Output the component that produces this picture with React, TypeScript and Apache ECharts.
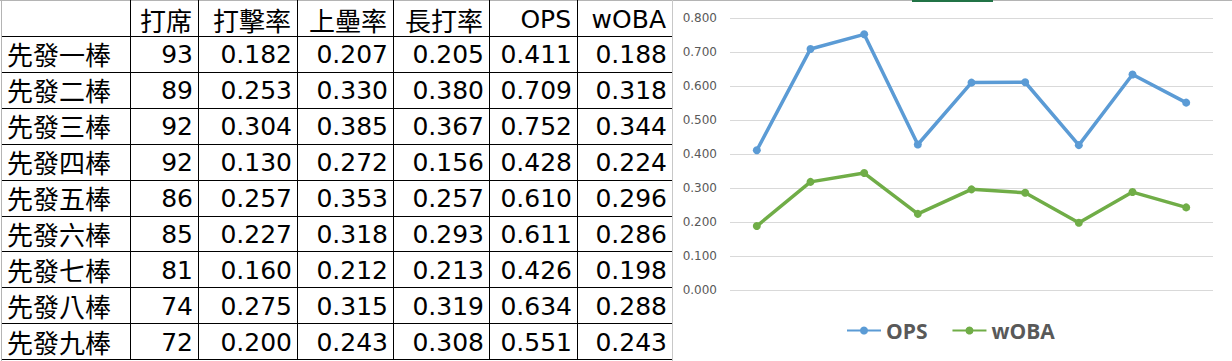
import React, { useEffect, useRef } from "react";
import * as echarts from "echarts";

const headers = ["", "打席", "打擊率", "上壘率", "長打率", "OPS", "wOBA"];
const lineup = ["先發一棒", "先發二棒", "先發三棒", "先發四棒", "先發五棒", "先發六棒", "先發七棒", "先發八棒", "先發九棒"];
const pa = [93, 89, 92, 92, 86, 85, 81, 74, 72];
const avg = [0.182, 0.253, 0.304, 0.13, 0.257, 0.227, 0.16, 0.275, 0.2];
const obp = [0.207, 0.33, 0.385, 0.272, 0.353, 0.318, 0.212, 0.315, 0.243];
const slg = [0.205, 0.38, 0.367, 0.156, 0.257, 0.293, 0.213, 0.319, 0.308];
const ops = [0.411, 0.709, 0.752, 0.428, 0.61, 0.611, 0.426, 0.634, 0.551];
const woba = [0.188, 0.318, 0.344, 0.224, 0.296, 0.286, 0.198, 0.288, 0.243];
const yTicks = [0, 0.1, 0.2, 0.3, 0.4, 0.5, 0.6, 0.7, 0.8];

const colEdges = [0, 130, 198, 297, 393, 489, 577, 672];
const headerBottom = 36;
const rowH = 35.9;

export default function App() {
  const ref = useRef<HTMLDivElement>(null);
  useEffect(() => {
    document.body.style.margin = "0";
    const chart = echarts.init(ref.current!, null, { renderer: "svg" });
    const graphics: any[] = [];
    const cjk = "'Noto Sans CJK TC', sans-serif";
    const lat = "'DejaVu Sans', sans-serif";
    // borders
    graphics.push({ type: "line", shape: { x1: 0, y1: 0.5, x2: 1232, y2: 0.5 }, style: { stroke: "#b4b4b4", lineWidth: 1 } });
    graphics.push({ type: "line", shape: { x1: 912, y1: 1, x2: 993, y2: 1 }, style: { stroke: "#217346", lineWidth: 2 } });
    graphics.push({ type: "line", shape: { x1: 1.5, y1: 0, x2: 1.5, y2: 361 }, style: { stroke: "#b4b4b4", lineWidth: 1 } });
    graphics.push({ type: "line", shape: { x1: 672.5, y1: 0, x2: 672.5, y2: 361 }, style: { stroke: "#c8c8c8", lineWidth: 1 } });
    for (let k = 0; k <= lineup.length; k++) {
      const y = Math.round(headerBottom + rowH * k) + 0.5;
      graphics.push({ type: "line", shape: { x1: 2, y1: y, x2: 672, y2: y }, style: { stroke: "#000", lineWidth: 1 } });
    }
    const tableBottom = Math.round(headerBottom + rowH * lineup.length) + 0.5;
    for (let c = 1; c < colEdges.length - 1; c++) {
      const x = colEdges[c] + 0.5;
      graphics.push({ type: "line", shape: { x1: x, y1: 0, x2: x, y2: tableBottom }, style: { stroke: "#000", lineWidth: 1 } });
    }
    // header
    headers.forEach((h, c) => {
      if (!h) return;
      const isCjk = /[^\x00-\x7f]/.test(h);
      graphics.push({
        type: "text",
        x: colEdges[c + 1] - 6,
        y: 19,
        style: { text: h, fill: "#000", fontSize: isCjk ? 26 : 25, fontFamily: isCjk ? cjk : lat, align: "right", verticalAlign: "middle" },
      });
    });
    const cols = [pa.map(String), avg.map((v) => v.toFixed(3)), obp.map((v) => v.toFixed(3)), slg.map((v) => v.toFixed(3)), ops.map((v) => v.toFixed(3)), woba.map((v) => v.toFixed(3))];
    lineup.forEach((name, r) => {
      const cy = headerBottom + rowH * (r + 0.5) + 1;
      graphics.push({ type: "text", x: 7, y: cy - 1, style: { text: name, fill: "#000", fontSize: 26, fontFamily: cjk, align: "left", verticalAlign: "middle" } });
      cols.forEach((col, c) => {
        graphics.push({ type: "text", x: colEdges[c + 2] - 5, y: cy, style: { text: col[r], fill: "#000", fontSize: 25, fontFamily: lat, align: "right", verticalAlign: "middle" } });
      });
    });

    chart.setOption({
      animation: false,
      backgroundColor: "#fff",
      grid: { left: 730, right: 19, top: 18, bottom: 71 },
      legend: {
        left: 841,
        top: 315,
        itemWidth: 34,
        itemHeight: 10,
        itemGap: 24,
        textStyle: { fontSize: 21, fontWeight: "bold", color: "#595959", fontFamily: "'Open Sans', sans-serif" },
        data: ["OPS", "wOBA"],
      },
      xAxis: {
        type: "category",
        data: lineup,
        axisLine: { show: false },
        axisTick: { show: false },
        axisLabel: { show: false },
      },
      yAxis: {
        type: "value",
        min: yTicks[0],
        max: yTicks[yTicks.length - 1],
        interval: 0.1,
        axisLabel: { formatter: (v: number) => v.toFixed(3), color: "#595959", fontSize: 12, margin: 13, fontFamily: "'DejaVu Sans', sans-serif" },
        splitLine: { lineStyle: { color: "#d9d9d9", width: 1 } },
        axisLine: { show: false },
        axisTick: { show: false },
      },
      series: [
        { name: "OPS", type: "line", data: ops, symbol: "circle", symbolSize: 8, lineStyle: { width: 3.5, color: "#5B9BD5" }, itemStyle: { color: "#5B9BD5" } },
        { name: "wOBA", type: "line", data: woba, symbol: "circle", symbolSize: 8, lineStyle: { width: 3.5, color: "#70AD47" }, itemStyle: { color: "#70AD47" } },
      ],
      graphic: graphics,
    });
    return () => chart.dispose();
  }, []);
  return <div ref={ref} style={{ width: 1232, height: 361 }} />;
}
